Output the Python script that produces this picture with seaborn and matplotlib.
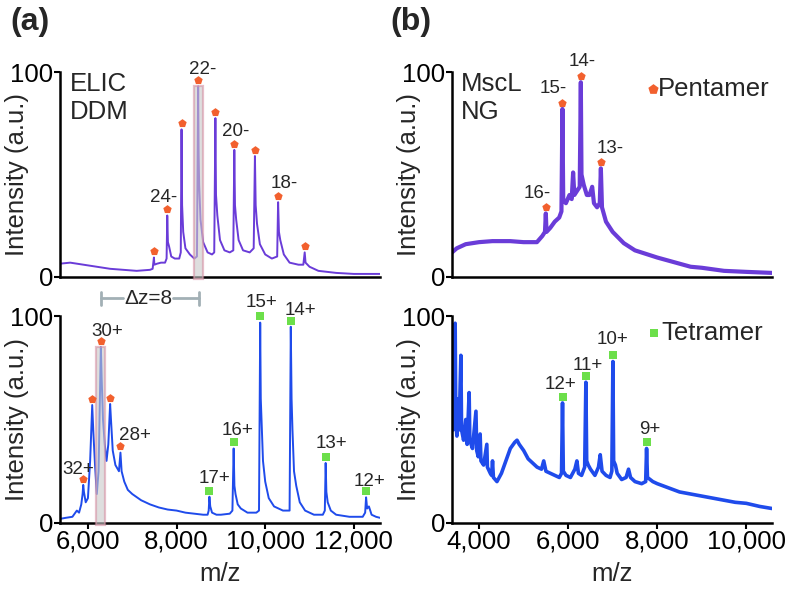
import numpy as np
import matplotlib
matplotlib.use('Agg')
import matplotlib.pyplot as plt
import seaborn as sns
from matplotlib.patches import Rectangle

# ---------------- data ----------------
# (a) top: ELIC in DDM (negative mode) trace
elic_neg_mz = [5370, 5600, 5900, 6200, 6500, 6800, 7100, 7400, 7460, 7489, 7500, 7560, 7650, 7740,
               7775, 7790, 7805, 7830, 7880, 7960, 8060, 8095, 8112, 8125, 8150, 8200,
               8300, 8400, 8460, 8487, 8498, 8510, 8540, 8600, 8700, 8800, 8850, 8876,
               8890, 8920, 8980, 9080, 9200, 9280, 9303, 9318, 9345, 9400, 9500, 9650,
               9740, 9768, 9785, 9815, 9880, 10000, 10150, 10270, 10291, 10310, 10340, 10420,
               10550, 10750, 10860, 10891, 10910, 11000, 11200, 11600, 12000, 12590]
elic_neg_int = [6.5, 7, 6, 5, 4, 3.5, 3, 3.5, 4, 9.5, 6, 6.5, 7, 7,
                9, 30, 17, 15, 10, 9, 9, 12, 72, 35, 22, 14,
                11, 9, 10, 93, 60, 45, 28, 17, 12, 11, 12, 77.5,
                40, 30, 18, 13, 12, 13, 62, 35, 28, 18, 13, 12,
                14, 59, 35, 26, 16, 11, 9, 10, 36.5, 22, 18, 11,
                7, 6, 6, 12, 7, 5, 3, 2, 1.5, 1.5]
elic_neg_peak_mz = [7489, 7790, 8112, 8487, 8876, 9303, 9768, 10291, 10891]
elic_neg_peak_int = [9.5, 30, 72, 93, 77.5, 62, 59, 36.5, 12]
elic_neg_labels = ['', '24-', '', '22-', '', '20-', '', '18-', '']

# (a) bottom: ELIC in DDM (positive mode) trace
elic_pos_mz = [5370, 5500, 5650, 5750, 5800, 5850, 5880, 5894, 5910, 5950,
               6000, 6050, 6097, 6120, 6160, 6200, 6240, 6270, 6292, 6310,
               6340, 6380, 6420, 6460, 6501, 6520, 6560, 6620, 6700, 6734,
               6760, 6820, 6900, 7000, 7200, 7400, 7600, 7800, 8000, 8200,
               8400, 8600, 8700, 8725, 8741, 8760, 8800, 8900, 9000, 9200,
               9260, 9288, 9305, 9330, 9380, 9450, 9600, 9800, 9860, 9887,
               9900, 9920, 9950, 10000, 10080, 10200, 10400, 10550, 10577, 10595,
               10615, 10650, 10700, 10780, 10900, 11100, 11300, 11345, 11364, 11380,
               11410, 11480, 11600, 11900, 12200, 12255, 12276, 12300, 12340, 12400,
               12500, 12590]
elic_pos_int = [2, 2.5, 3, 6, 5, 9, 14, 18.4, 15, 10,
                12, 30, 57, 45, 28, 14, 25, 60, 85, 70,
                50, 38, 30, 38, 57.5, 50, 35, 28, 25, 34,
                25, 20, 16, 14, 11, 9, 7.5, 6.5, 6, 5,
                4.5, 4, 4, 6, 12.7, 8, 5, 4, 4, 4.5,
                6, 36, 18, 14, 9, 7, 5, 5, 6, 96.8,
                60, 48, 30, 20, 12, 8, 6, 6, 94.8, 60,
                45, 25, 18, 10, 6, 4, 4, 6, 29, 15,
                10, 6, 4, 3, 3, 5, 12.4, 7, 8, 4,
                3, 2.5]
elic_pent_mz = [5894, 6097, 6292, 6501, 6734]
elic_pent_int = [18.4, 57, 85, 57.5, 34]
elic_pent_labels = ['32+', '', '30+', '', '28+']
elic_tet_mz = [8741, 9288, 9887, 10577, 11364, 12276]
elic_tet_int = [12.7, 36, 96.8, 94.8, 29, 12.4]
elic_tet_labels = ['17+', '16+', '15+', '14+', '13+', '12+']

# (b) top: MscL in NG (negative mode) trace
mscl_neg_mz = [3393, 3500, 3700, 4000, 4300, 4700, 5000, 5300, 5420, 5480,
               5499, 5515, 5600, 5700, 5800, 5850, 5872, 5890, 5950, 6030,
               6080, 6112, 6140, 6200, 6260, 6285, 6300, 6350, 6420, 6480,
               6540, 6580, 6650, 6710, 6735, 6760, 6850, 7000, 7250, 7500,
               8000, 8500, 8750, 9000, 9500, 10000, 10577]
mscl_neg_int = [12, 14, 16, 17, 17.5, 17.5, 17, 17, 20, 22,
                31, 22, 24, 27, 29, 32, 82, 38, 36, 40,
                38, 51, 40, 42, 44, 95, 50, 45, 40, 40,
                44, 36, 34, 36, 53, 34, 27, 22, 16.5, 13,
                9.5, 6.5, 5, 4.5, 3, 2.5, 2]
mscl_pent_mz = [5499, 5872, 6285, 6735]
mscl_pent_int = [31, 82, 95, 53]
mscl_pent_labels = ['16-', '15-', '14-', '13-']

# (b) bottom: MscL in NG (positive mode) trace
mscl_pos_mz = [3390, 3420, 3440, 3461, 3475, 3500, 3530, 3550, 3589, 3605,
               3650, 3700, 3730, 3775, 3790, 3850, 3928, 3945, 3980, 4022,
               4040, 4100, 4172, 4185, 4250, 4280, 4300, 4320, 4400, 4500,
               4600, 4700, 4800, 4850, 4900, 5000, 5100, 5200, 5300, 5400,
               5450, 5500, 5600, 5700, 5800, 5850, 5872, 5890, 5950, 6050,
               6150, 6195, 6230, 6300, 6370, 6397, 6415, 6450, 6500, 6600,
               6680, 6719, 6760, 6850, 6940, 6980, 7004, 7020, 7060, 7100,
               7200, 7300, 7355, 7400, 7500, 7650, 7740, 7760, 7780, 7900,
               8000, 8250, 8500, 8750, 9000, 9250, 9500, 9750, 10000, 10300,
               10577]
mscl_pos_int = [60, 45, 55, 96.5, 50, 42, 60, 45, 81, 45,
                40, 50, 38, 63, 40, 36, 54, 35, 32, 43,
                30, 28, 38, 27, 24, 23, 30, 22, 20, 24,
                30, 36, 39, 40, 38, 35, 31, 29, 27, 26,
                30, 25, 24, 23, 22, 24, 58, 25, 23, 22,
                26, 30, 24, 23, 27, 68, 30, 28, 26, 23,
                27, 33, 25, 23, 22, 25, 78, 30, 28, 24,
                21, 22, 26, 22, 20, 19, 20, 36, 22, 20,
                19, 17, 15, 14, 13, 12, 11, 10, 9.5, 8,
                7]
mscl_tet_mz = [5872, 6397, 7004, 7760]
mscl_tet_int = [58, 68, 78, 36]
mscl_tet_labels = ['12+', '11+', '10+', '9+']

a_ticks = [6000, 8000, 10000, 12000]
b_ticks = [4000, 6000, 8000, 10000]

# label offsets from marker, in pixels (dx right, dy up)
label_offsets = {
    '24-': (-4, 12), '22-': (5, 11), '20-': (1, 12), '18-': (6, 13),
    '32+': (-5, 9), '30+': (6, 9), '28+': (14, 11),
    '17+': (5, 12), '16+': (4, 12), '15+': (1, 14), '14+': (10, 10), '13+': (6, 13), '12+': (3, 10),
    '16-': (-9, 14), '15-': (-9, 14), '14-': (1, 15), '13-': (9, 14),
}
mscl_offsets = {'12+': (-2, 12), '11+': (2, 11), '10+': (0, 16), '9+': (3, 13)}

# ---------------- styling ----------------
sns.set_style('white')
plt.rcParams['font.family'] = ['Liberation Sans', 'DejaVu Sans']

PURPLE = '#6A3CD8'
BLUE = '#1F4BEB'
ORANGE = '#F2602E'
GREEN = '#6CDF4A'
FS = 18.5

W, H = 789, 591
fig = plt.figure(figsize=(W / 100, H / 100), dpi=100)


def add_axes(x0, x1, ytop, ybot):
    return fig.add_axes([x0 / W, 1 - ybot / H, (x1 - x0) / W, (ybot - ytop) / H])


ax_at = add_axes(60, 380, 72, 277)
ax_ab = add_axes(60, 380, 316, 523)
ax_bt = add_axes(452, 772, 72, 277)
ax_bb = add_axes(452, 772, 316, 523)


def style_axes(ax, xlim, ticks=None, ylab_y=0.5):
    ax.set_xlim(xlim)
    ax.set_ylim(0, 100)
    for s in ['top', 'right']:
        ax.spines[s].set_visible(False)
    for s in ['left', 'bottom']:
        ax.spines[s].set_linewidth(1.8)
        ax.spines[s].set_color('black')
    ax.set_yticks([0, 100])
    ax.set_yticklabels(['0', '100'])
    ax.tick_params(axis='y', left=True, direction='out', length=4, width=1.5,
                   labelsize=FS, pad=1, colors='black')
    if ticks is not None:
        ax.set_xticks(ticks)
        ax.set_xticklabels([f'{t:,}' for t in ticks])
        ax.tick_params(axis='x', bottom=True, direction='out', length=4, width=1.5,
                       labelsize=FS, pad=1, colors='black')
        ax.set_xlabel('m/z', fontsize=FS, labelpad=6)
    else:
        ax.set_xticks([])
    ax.set_ylabel('Intensity (a.u.)', fontsize=FS)
    ax.yaxis.set_label_coords(-0.097, ylab_y)


def draw_trace(ax, mz, inten, color, lw):
    sns.lineplot(x=mz, y=inten, ax=ax, color=color, linewidth=lw,
                 estimator=None, sort=False, zorder=2)


def draw_peaks(ax, mz, inten, labels, marker, color, offsets, size=40):
    ym = np.array(inten) + 3
    sns.scatterplot(x=mz, y=ym, ax=ax, marker=marker, s=size, color=color,
                    linewidth=0, clip_on=False, zorder=5, legend=False)
    for x, y, lab in zip(mz, ym, labels):
        if lab:
            dx, dy = offsets.get(lab, (0, 12))
            ax.annotate(lab, xy=(x, y), xytext=(dx * 0.72, dy * 0.72),
                        textcoords='offset points', ha='center', va='center',
                        fontsize=13.5, annotation_clip=False, zorder=6)


# ---- (a) top ----
draw_trace(ax_at, elic_neg_mz, elic_neg_int, PURPLE, 1.4)
draw_peaks(ax_at, elic_neg_peak_mz, elic_neg_peak_int, elic_neg_labels, 'p', ORANGE, label_offsets)
style_axes(ax_at, (5370, 12590), None, 0.5)
c22 = elic_neg_peak_mz[3]
ax_at.add_patch(Rectangle((c22 - 101, -1), 202, elic_neg_peak_int[3] + 1,
                          facecolor='#C8C8C8', alpha=0.6, edgecolor='#D694A6',
                          linewidth=1.6, zorder=3, clip_on=False))
ax_at.text(0.031, 0.94, 'ELIC', transform=ax_at.transAxes, fontsize=FS, va='center', ha='left')
ax_at.text(0.031, 0.805, 'DDM', transform=ax_at.transAxes, fontsize=FS, va='center', ha='left')

# ---- (a) bottom ----
draw_trace(ax_ab, elic_pos_mz, elic_pos_int, BLUE, 1.4)
draw_peaks(ax_ab, elic_pent_mz, elic_pent_int, elic_pent_labels, 'p', ORANGE, label_offsets)
draw_peaks(ax_ab, elic_tet_mz, elic_tet_int, elic_tet_labels, 's', GREEN, label_offsets, size=32)
style_axes(ax_ab, (5370, 12590), a_ticks, 0.5)
c30 = elic_pent_mz[2]
ax_ab.add_patch(Rectangle((c30 - 101, -1), 202, elic_pent_int[2] + 1,
                          facecolor='#C8C8C8', alpha=0.6, edgecolor='#D694A6',
                          linewidth=1.6, zorder=3, clip_on=False))

# delta-z bracket between 30+ (bottom) and 22- (top)
bar_col = '#A2B0B5'
yb = 108.5
ax_ab.plot([c30, 6793], [yb, yb], color=bar_col, lw=2, clip_on=False)
ax_ab.plot([7917, c22 + 30], [yb, yb], color=bar_col, lw=2, clip_on=False)
for xc in [c30, c22 + 30]:
    ax_ab.plot([xc, xc], [yb - 3, yb + 3], color=bar_col, lw=2, clip_on=False)
ax_ab.text((6793 + 7917) / 2, yb, '\u0394z=8', ha='center', va='center', fontsize=15)

# ---- (b) top ----
draw_trace(ax_bt, mscl_neg_mz, mscl_neg_int, PURPLE, 3.0)
draw_peaks(ax_bt, mscl_pent_mz, mscl_pent_int, mscl_pent_labels, 'p', ORANGE, label_offsets)
style_axes(ax_bt, (3393, 10577), None, 0.5)
ax_bt.text(0.028, 0.94, 'MscL', transform=ax_bt.transAxes, fontsize=FS, va='center', ha='left')
ax_bt.text(0.028, 0.805, 'NG', transform=ax_bt.transAxes, fontsize=FS, va='center', ha='left')
ax_bt.scatter([0.628], [0.917], transform=ax_bt.transAxes, marker='p', s=60,
              color=ORANGE, linewidth=0, clip_on=False, zorder=5)
ax_bt.text(0.644, 0.917, 'Pentamer', transform=ax_bt.transAxes, fontsize=FS, va='center', ha='left')

# ---- (b) bottom ----
draw_trace(ax_bb, mscl_pos_mz, mscl_pos_int, BLUE, 2.6)
draw_peaks(ax_bb, mscl_tet_mz, mscl_tet_int, mscl_tet_labels, 's', GREEN, mscl_offsets, size=32)
style_axes(ax_bb, (3390, 10577), b_ticks, 0.5)
ax_bb.scatter([0.632], [0.916], transform=ax_bb.transAxes, marker='s', s=40,
              color=GREEN, linewidth=0, clip_on=False, zorder=5)
ax_bb.text(0.655, 0.916, 'Tetramer', transform=ax_bb.transAxes, fontsize=FS, va='center', ha='left')

# panel letters
fig.text(10 / W, 1 - 22 / H, '(a)', fontsize=23, fontweight='bold', va='center', ha='left')
fig.text(390 / W, 1 - 22 / H, '(b)', fontsize=23, fontweight='bold', va='center', ha='left')

fig.savefig('out.png', dpi=100)
